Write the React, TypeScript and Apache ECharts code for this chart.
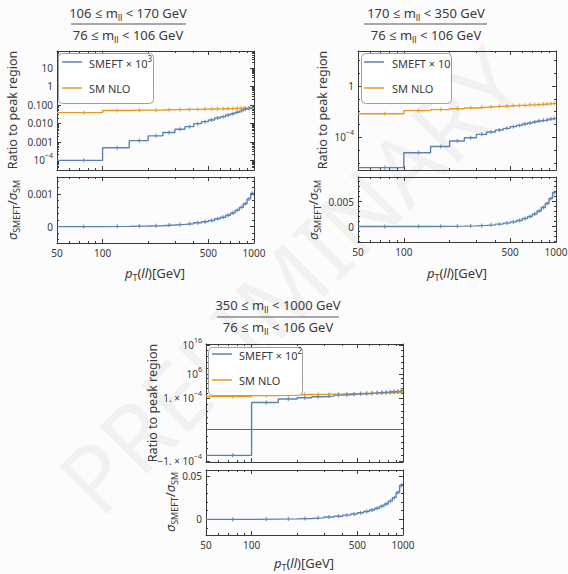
import React, { useEffect, useRef } from "react";
import * as echarts from "echarts";

// ---------- data ----------
const EDGES = [50, 100, 150, 200, 250, 300, 350, 400, 450, 500, 550, 600, 650, 700, 750, 800, 850, 900, 950, 1000];

const P1_SMEFT = [9.8e-5, 4.7e-4, 1.15e-3, 2.1e-3, 3.2e-3, 4.8e-3, 6.6e-3, 9.6e-3, 0.0123, 0.0152, 0.0195, 0.023, 0.028, 0.033, 0.04, 0.047, 0.058, 0.064, 0.071];
const P1_SM = [0.038, 0.05, 0.052, 0.053, 0.055, 0.056, 0.057, 0.058, 0.059, 0.06, 0.061, 0.062, 0.063, 0.064, 0.065, 0.066, 0.067, 0.068, 0.07];
const P1_RATIO = [0, 0.00001, 0.00002, 0.00003, 0.00005, 0.00007, 0.00009, 0.00012, 0.00015, 0.00019, 0.00024, 0.00029, 0.00035, 0.00042, 0.0005, 0.00059, 0.0007, 0.00085, 0.00102];

const P2_SMEFT = [4.3e-7, 6.3e-6, 1.9e-5, 5.2e-5, 9.3e-5, 1.7e-4, 2.6e-4, 3.7e-4, 5.0e-4, 6.8e-4, 8.5e-4, 1.1e-3, 1.3e-3, 1.55e-3, 1.85e-3, 2.1e-3, 2.35e-3, 2.7e-3, 3.0e-3];
const P2_SM = [0.0069, 0.012, 0.0145, 0.017, 0.0195, 0.022, 0.0245, 0.026, 0.0275, 0.0295, 0.031, 0.032, 0.034, 0.035, 0.036, 0.038, 0.04, 0.042, 0.044];
const P2_RATIO = [0, 0.00001, 0.00003, 0.00007, 0.00013, 0.00022, 0.00033, 0.00048, 0.00068, 0.00092, 0.0012, 0.0016, 0.002, 0.0025, 0.0031, 0.0038, 0.0046, 0.0056, 0.0068];

const P3_SMEFT = [-8.1e-5, 8.6e-5, 9.7e-5, 1.33e-4, 3.4e-4, 6.5e-4, 1.66e-3, 2.3e-3, 4.3e-3, 5.9e-3, 8.1e-3, 0.011, 0.015, 0.021, 0.028, 0.039, 0.053, 0.074, 0.14];
const P3_SM = [4.7e-4, 1.2e-3, 2.3e-3, 3.1e-3, 3.3e-3, 4.3e-3, 4.6e-3, 5.9e-3, 6.2e-3, 8.1e-3, 8.4e-3, 0.011, 0.0115, 0.015, 0.0155, 0.016, 0.021, 0.021, 0.022];
const P3_RATIO = [-0.0001, 0.0002, 0.0005, 0.001, 0.0017, 0.0026, 0.0036, 0.0048, 0.0061, 0.0075, 0.009, 0.0107, 0.0127, 0.015, 0.0177, 0.021, 0.025, 0.031, 0.039];

const X_MAJOR = [50, 100, 500, 1000];
const X_MINOR = [60, 70, 80, 90, 200, 300, 400, 600, 700, 800, 900];

const P1_Y_TICKS = [1e-4, 1e-3, 0.01, 0.1, 1, 10];
const P1_Y_LABELS = ["{b|10}{sup|−4}", "{b|0.001}", "{b|0.010}", "{b|0.100}", "{b|1}", "{b|10}"];
const P1R_Y_TICKS = [0, 0.001];
const P1R_Y_LABELS = ["{b|0}", "{b|0.001}"];
const P2_Y_TICKS = [1e-4, 1];
const P2_Y_LABELS = ["{b|10}{sup|−4}", "{b|1}"];
const P2R_Y_TICKS = [0, 0.005];
const P2R_Y_LABELS = ["{b|0}", "{b|0.005}"];
const P3_Y_TICKS = [-1e-4, 1e-4, 1e6, 1e16];
const P3_Y_LABELS = ["{b|−1. × 10}{sup|−4}", "{b|1. × 10}{sup|−4}", "{b|10}{sup|6}", "{b|10}{sup|16}"];
const P3R_Y_TICKS = [0, 0.05];
const P3R_Y_LABELS = ["{b|0}", "{b|0.05}"];

const MASS_WINDOWS = [["106", "170"], ["170", "350"], ["350", "1000"]];
const PEAK_WINDOW = ["76", "106"];
const SMEFT_EXPONENT = ["3", "", "2"];

// ---------- style ----------
const BLUE = "#5e81b5";
const ORANGE = "#e19c24";
const FRAME = "#3a3a3a";
const TXT = "#3a3a3a";
const FONT = '"Noto Sans", "Open Sans", sans-serif';

const lg = Math.log10;
const LIN = 1e-4;
function symlog(v: number): number {
  const a = Math.abs(v);
  if (a <= LIN) return v / LIN;
  const d = Math.log10(a / LIN);
  const t = d <= 10 ? 1 + d * 0.0767 : 1 + 10 * 0.0767 + (d - 10) * 0.0915;
  return Math.sign(v) * t;
}
const ident = (v: number) => v;

function rich(F: number) {
  const s = Math.round(F * 0.72);
  return {
    b: { fontSize: F, fontFamily: FONT, color: TXT },
    i: { fontSize: F, fontFamily: FONT, color: TXT, fontStyle: "italic" },
    sup: { fontSize: s, fontFamily: FONT, color: TXT, padding: [0, 0, Math.round(F * 0.9), 0] },
    sub: { fontSize: s, fontFamily: FONT, color: TXT, padding: [Math.round(F * 0.6), 0, 0, 0] },
  };
}

function stepData(vals: number[], fy: (v: number) => number) {
  const pts = vals.map((v, i) => [lg(EDGES[i]), fy(v)]);
  pts.push([lg(EDGES[EDGES.length - 1]), fy(vals[vals.length - 1])]);
  return pts;
}
function centerData(vals: number[], fy: (v: number) => number) {
  return vals.map((v, i) => [lg((EDGES[i] + EDGES[i + 1]) / 2), fy(v)]);
}

const GRIDS = [
  { left: 57, top: 51, width: 197, height: 119 },
  { left: 57, top: 177, width: 197, height: 66 },
  { left: 358, top: 51, width: 198, height: 119 },
  { left: 358, top: 177, width: 198, height: 65 },
  { left: 206, top: 344, width: 197, height: 118 },
  { left: 206, top: 470, width: 197, height: 65 },
];

function range(a: number, b: number, step: number) {
  const out: number[] = [];
  for (let v = a; v <= b + step * 1e-6; v += step) out.push(Math.round(v / step) * step);
  return out;
}
function logMinors(dMin: number, dMax: number) {
  const out: number[] = [];
  for (let d = dMin; d <= dMax; d++) for (let m = 2; m <= 9; m++) out.push(m * Math.pow(10, d));
  return out;
}

const Y_CFG = [
  { min: -4.53, max: 1.92, f: lg, major: P1_Y_TICKS, labels: P1_Y_LABELS, minor: logMinors(-5, 1) },
  { min: -0.0005, max: 0.00152, f: ident, major: P1R_Y_TICKS, labels: P1R_Y_LABELS, minor: range(-0.0004, 0.0014, 0.0002).filter((v) => Math.abs(v) > 1e-9 && Math.abs(v - 0.001) > 1e-9) },
  { min: -6.55, max: 2.73, f: lg, major: P2_Y_TICKS, labels: P2_Y_LABELS, minor: [1e-6, 1e-5, 1e-3, 1e-2, 1e-1, 10, 100] },
  { min: -0.0031, max: 0.0099, f: ident, major: P2R_Y_TICKS, labels: P2R_Y_LABELS, minor: [-0.003, -0.002, -0.001, 0.001, 0.002, 0.003, 0.004, 0.006, 0.007, 0.008, 0.009] },
  { min: -1.02, max: 2.71, f: symlog, major: P3_Y_TICKS, labels: P3_Y_LABELS, minor: [-8e-5, -6e-5, -4e-5, -2e-5, 0, 2e-5, 4e-5, 6e-5, 8e-5, 1e-2, 1, 1e2, 1e4, 1e8, 1e10, 1e12, 1e14] },
  { min: -0.0181, max: 0.0569, f: ident, major: P3R_Y_TICKS, labels: P3R_Y_LABELS, minor: [-0.01, 0.01, 0.02, 0.03, 0.04] },
];

function buildOption() {
  const xAxis: any[] = [];
  const yAxis: any[] = [];
  const grid: any[] = [];
  const series: any[] = [];
  const xMaj = X_MAJOR.map(lg);
  const xMin = X_MINOR.map(lg);

  GRIDS.forEach((g, gi) => {
    grid.push({ ...g, containLabel: false, outerBoundsMode: "none" });
    const isLower = gi % 2 === 1;
    const bx = { gridIndex: gi, type: "value", min: lg(50), max: 3, splitLine: { show: false } };
    const line = { show: true, onZero: false, lineStyle: { color: FRAME, width: 1 } };
    const noLine = { show: false, onZero: false };
    const tick = (vals: number[], len: number) => ({ show: true, inside: true, length: len, customValues: vals, lineStyle: { color: FRAME, width: 1 } });
    xAxis.push(
      { ...bx, position: "bottom", axisLine: line, axisTick: tick(xMaj, 4), axisLabel: { show: isLower, customValues: xMaj, formatter: (v: number) => String(Math.round(Math.pow(10, v))), margin: 5, fontSize: 10, fontFamily: FONT, color: TXT } },
      { ...bx, position: "bottom", axisLine: noLine, axisTick: tick(xMin, 2), axisLabel: { show: false } },
      { ...bx, position: "top", axisLine: line, axisTick: tick(xMaj, 4), axisLabel: { show: false } },
      { ...bx, position: "top", axisLine: noLine, axisTick: tick(xMin, 2), axisLabel: { show: false } }
    );
    const c = Y_CFG[gi];
    const yMaj = c.major.map(c.f);
    const yMin = c.minor.map(c.f).filter((v) => v > c.min && v < c.max);
    const by = { gridIndex: gi, type: "value", min: c.min, max: c.max, splitLine: { show: false } };
    const fmt = (v: number) => {
      let best = 0;
      yMaj.forEach((m, k) => { if (Math.abs(m - v) < Math.abs(yMaj[best] - v)) best = k; });
      return c.labels[best];
    };
    yAxis.push(
      { ...by, position: "left", axisLine: line, axisTick: tick(yMaj, 4), axisLabel: { show: true, customValues: yMaj, formatter: fmt, margin: 4, rich: rich(10) } },
      { ...by, position: "left", axisLine: noLine, axisTick: tick(yMin, 2), axisLabel: { show: false } },
      { ...by, position: "right", axisLine: line, axisTick: tick(yMaj, 4), axisLabel: { show: false } },
      { ...by, position: "right", axisLine: noLine, axisTick: tick(yMin, 2), axisLabel: { show: false } }
    );
  });

  const addStep = (gi: number, vals: number[], f: (v: number) => number, color: string, extra: any = {}) => {
    series.push({
      type: "line", step: "end", xAxisIndex: gi * 4, yAxisIndex: gi * 4, data: stepData(vals, f),
      showSymbol: false, lineStyle: { color, width: 1.4 }, itemStyle: { color }, z: 3, silent: true, ...extra,
    });
    series.push({
      type: "scatter", xAxisIndex: gi * 4, yAxisIndex: gi * 4, data: centerData(vals, f),
      symbol: "rect", symbolSize: [1.4, 4], itemStyle: { color, opacity: 0.75 }, z: 3, silent: true,
    });
  };

  addStep(0, P1_SM, lg, ORANGE);
  addStep(0, P1_SMEFT, lg, BLUE);
  addStep(1, P1_RATIO, ident, BLUE);
  addStep(2, P2_SM, lg, ORANGE);
  addStep(2, P2_SMEFT, lg, BLUE);
  addStep(3, P2_RATIO, ident, BLUE);
  addStep(4, P3_SM, symlog, ORANGE);
  addStep(4, P3_SMEFT, symlog, BLUE, {
    markLine: { silent: true, symbol: "none", label: { show: false }, lineStyle: { color: "#6a6a6a", type: "solid", width: 1.2 }, data: [{ yAxis: 0 }] },
  });
  addStep(5, P3_RATIO, ident, BLUE);

  // ---------- graphics ----------
  const PANELS = [
    { tx: 128, ty: 13, lx: [71, 186], ly: 24, dy: 34, yx: 12, yy: 110, rx: 12, ry: 210, xx: 155, xy: 273, lg: { x: 58, y: 53, w: 95, h: 50, l: [62, 82], r: [62, 88], t: 89 } },
    { tx: 426, ty: 13, lx: [364, 487], ly: 24, dy: 34, yx: 322, yy: 110, rx: 313, ry: 210, xx: 457, xy: 273, lg: { x: 361, y: 53, w: 90, h: 50, l: [364, 384], r: [62, 88], t: 392 } },
    { tx: 278, ty: 305, lx: [217, 339], ly: 317, dy: 326, yx: 152, yy: 403, rx: 170, ry: 502, xx: 304, xy: 563, lg: { x: 208, y: 347, w: 94, h: 48, l: [212, 232], r: [354, 380], t: 239 } },
  ];
  const gfx: any[] = [];
  const txt = (x: number, y: number, text: string, F: number, opts: any = {}) => ({
    type: "text", x, y, rotation: opts.rot || 0, z: opts.z || 50,
    style: { text, rich: rich(F), font: `${F}px ${FONT}`, fill: TXT, align: opts.align || "center", verticalAlign: "middle", textAlign: opts.align || "center", textVerticalAlign: "middle" },
  });

  gfx.push({
    type: "text", x: 290, y: 280, rotation: Math.PI / 4, z: 0, silent: true,
    style: { text: "PRELIMINARY", font: `94px ${FONT}`, fill: "rgba(0,0,0,0.045)", align: "center", verticalAlign: "middle", textAlign: "center", textVerticalAlign: "middle" },
  });

  PANELS.forEach((p, k) => {
    const [lo, hi] = MASS_WINDOWS[k];
    gfx.push(txt(p.tx, p.ty, `{b|${lo} ≤ m}{sub|ll}{b| < ${hi} GeV}`, 13));
    gfx.push({ type: "line", z: 50, shape: { x1: p.lx[0], y1: p.ly, x2: p.lx[1], y2: p.ly }, style: { stroke: "#555", lineWidth: 1 } });
    gfx.push(txt(p.tx, p.dy + 1, `{b|${PEAK_WINDOW[0]} ≤ m}{sub|ll}{b| < ${PEAK_WINDOW[1]} GeV}`, 13));
    gfx.push(txt(p.yx, p.yy, "{b|Ratio to peak region}", 12.5, { rot: Math.PI / 2 }));
    gfx.push(txt(p.rx, p.ry, "{i|σ}{sub|SMEFT}{b|/}{i|σ}{sub|SM}", 13, { rot: Math.PI / 2 }));
    gfx.push(txt(p.xx, p.xy, "{i|p}{sub|T}{b|(}{i|ll}{b|)[GeV]}", 13));
    const L = p.lg;
    gfx.push({ type: "rect", z: 100, shape: { x: L.x + 0.5, y: L.y + 0.5, width: L.w, height: L.h, r: 4 }, style: { fill: "rgba(255,255,255,0.9)", stroke: "#a0a0a0", lineWidth: 1 } });
    gfx.push({ type: "line", z: 101, shape: { x1: L.l[0], y1: L.r[0], x2: L.l[1], y2: L.r[0] }, style: { stroke: BLUE, lineWidth: 1.5 } });
    gfx.push({ type: "line", z: 101, shape: { x1: L.l[0], y1: L.r[1], x2: L.l[1], y2: L.r[1] }, style: { stroke: ORANGE, lineWidth: 1.5 } });
    const e = SMEFT_EXPONENT[k];
    const legendText = e ? `{b|SMEFT × 10}{sup|${e}}` : "{b|SMEFT × 10}";
    gfx.push(txt(L.t, L.r[0] + 1, legendText, 11, { align: "left", z: 102 }));
    gfx.push(txt(L.t, L.r[1], "{b|SM NLO}", 11, { align: "left", z: 102 }));
  });

  return {
    animation: false,
    backgroundColor: "#fcfcfc",
    grid, xAxis, yAxis, series, graphic: { elements: gfx },
  };
}

export default function App() {
  const ref = useRef<HTMLDivElement>(null);
  useEffect(() => {
    if (!ref.current) return;
    const chart = echarts.init(ref.current, undefined, { renderer: "svg" });
    chart.setOption(buildOption() as any);
    return () => chart.dispose();
  }, []);
  return <div ref={ref} style={{ position: "absolute", left: 0, top: 0, width: 568, height: 574 }} />;
}
